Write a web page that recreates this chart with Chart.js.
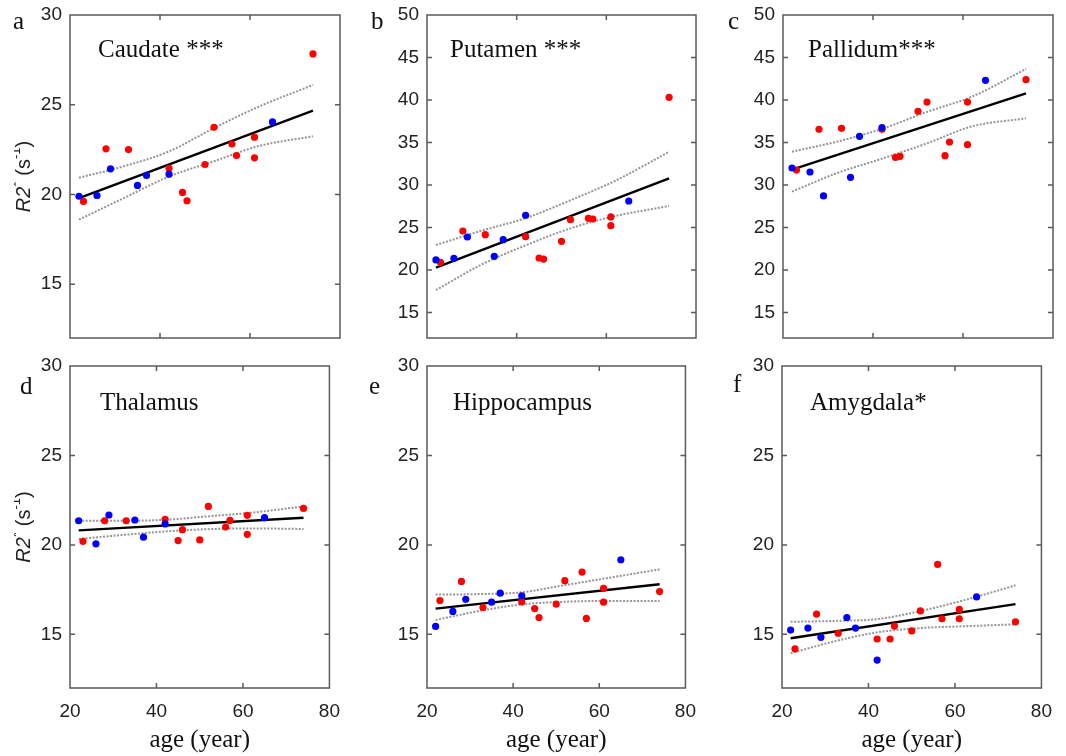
<!DOCTYPE html>
<html><head><meta charset="utf-8">
<script src="https://cdn.jsdelivr.net/npm/chart.js@4.4.1/dist/chart.umd.min.js"></script>
<style>
html,body{margin:0;padding:0;background:#fff;}
#wrap{position:relative;width:1066px;height:756px;overflow:hidden;background:#fff;}
canvas{position:absolute;}
.lbl{position:absolute;font-family:"Liberation Serif","Times New Roman",serif;color:#111;white-space:nowrap;font-size:25px;line-height:25px;}
</style></head><body><div id="wrap"></div>
<script>
// ---- data ----
const blueAge = [22, 26, 29, 35, 37, 42, 65];
const redAge  = [23, 28, 33, 42, 45, 46, 50, 52, 56, 57, 61, 61, 74];
const fitAge  = [22, 74];
const bandAge = [22, 32, 42, 52, 62, 74];
const xTicks  = [20, 40, 60, 80];
const yTicks30 = [15, 20, 25, 30];
const yTicks50 = [15, 20, 25, 30, 35, 40, 45, 50];
const regionNames  = ['Caudate ***', 'Putamen ***', 'Pallidum***', 'Thalamus', 'Hippocampus', 'Amygdala*'];
const panelLetters = ['a', 'b', 'c', 'd', 'e', 'f'];
const xTitle = 'age (year)';

const caudateBlue  = [19.90, 19.94, 21.43, 20.50, 21.06, 21.13, 24.04];
const caudateRed   = [19.61, 22.54, 22.50, 21.46, 20.11, 19.65, 21.67, 23.74, 22.81, 22.17, 23.19, 22.04, 27.83];
const caudateFit   = [19.80, 24.67];
const caudateUpper = [20.93, 21.57, 22.40, 23.70, 24.90, 26.10];
const caudateLower = [18.60, 19.80, 21.00, 21.85, 22.70, 23.24];

const putamenBlue  = [21.18, 21.37, 23.88, 21.61, 23.57, 26.43, 28.12];
const putamenRed   = [20.90, 24.59, 24.16, 23.92, 21.41, 21.29, 23.37, 25.92, 26.08, 26.00, 26.24, 25.22, 40.31];
const putamenFit   = [20.27, 30.78];
const putamenUpper = [22.94, 24.60, 26.10, 28.20, 30.50, 33.90];
const putamenLower = [17.65, 20.60, 22.90, 24.90, 26.35, 27.53];

const pallidumBlue  = [32.00, 31.53, 28.71, 30.90, 35.73, 36.75, 42.31];
const pallidumRed   = [31.76, 36.55, 36.67, 36.55, 33.25, 33.37, 38.67, 39.76, 33.45, 35.06, 39.76, 34.75, 42.39];
const pallidumFit   = [31.80, 40.78];
const pallidumUpper = [33.92, 35.10, 36.60, 38.60, 40.40, 43.65];
const pallidumLower = [29.22, 31.40, 33.10, 34.90, 36.90, 37.84];

const thalamusBlue  = [21.35, 20.06, 21.67, 21.39, 20.43, 21.17, 21.52];
const thalamusRed   = [20.20, 21.35, 21.35, 21.43, 20.24, 20.85, 20.28, 22.15, 21.00, 21.37, 21.65, 20.59, 22.04];
const thalamusFit   = [20.81, 21.52];
const thalamusUpper = [21.35, 21.35, 21.40, 21.60, 21.80, 22.15];
const thalamusLower = [20.33, 20.55, 20.75, 20.88, 20.92, 20.89];

const hippocampusBlue  = [15.44, 16.28, 16.96, 16.80, 17.30, 17.15, 19.17];
const hippocampusRed   = [16.89, 17.96, 16.50, 16.81, 16.44, 15.94, 16.69, 18.00, 18.48, 15.89, 17.57, 16.80, 17.39];
const hippocampusFit   = [16.44, 17.80];
const hippocampusUpper = [17.22, 17.25, 17.35, 17.75, 18.15, 18.63];
const hippocampusLower = [15.80, 16.30, 16.67, 16.82, 16.87, 16.87];

const amygdalaBlue  = [15.24, 15.35, 14.83, 15.94, 15.35, 13.56, 17.09];
const amygdalaRed   = [14.19, 16.13, 15.06, 14.74, 14.74, 15.46, 15.19, 16.31, 18.91, 15.87, 16.39, 15.87, 15.70];
const amygdalaFit   = [14.78, 16.69];
const amygdalaUpper = [15.70, 15.75, 15.85, 16.30, 16.90, 17.74];
const amygdalaLower = [13.94, 14.60, 15.11, 15.35, 15.45, 15.56];

// ---- layout ----
const panels = [
  {box:{l:70, t:15, r:340, b:338},  yMin:12, yMax:30, yT:yTicks30, blue:caudateBlue,  red:caudateRed,  fit:caudateFit,  up:caudateUpper,  lo:caudateLower},
  {box:{l:427,t:15, r:696, b:338},  yMin:12, yMax:50, yT:yTicks50, blue:putamenBlue,  red:putamenRed,  fit:putamenFit,  up:putamenUpper,  lo:putamenLower},
  {box:{l:783,t:15, r:1053,b:338},  yMin:12, yMax:50, yT:yTicks50, blue:pallidumBlue, red:pallidumRed, fit:pallidumFit, up:pallidumUpper, lo:pallidumLower},
  {box:{l:70, t:366,r:340, b:688},  yMin:12, yMax:30, yT:yTicks30, blue:thalamusBlue, red:thalamusRed, fit:thalamusFit, up:thalamusUpper, lo:thalamusLower},
  {box:{l:427,t:366,r:696, b:688},  yMin:12, yMax:30, yT:yTicks30, blue:hippocampusBlue, red:hippocampusRed, fit:hippocampusFit, up:hippocampusUpper, lo:hippocampusLower},
  {box:{l:782,t:366,r:1052,b:688},  yMin:12, yMax:30, yT:yTicks30, blue:amygdalaBlue, red:amygdalaRed, fit:amygdalaFit, up:amygdalaUpper, lo:amygdalaLower}
];
const titlePos  = [[98,36],[450,36],[808,36],[100,389],[453,389],[810,389]];
const letterPos = [[13,8],[371,8],[728,8],[20,373],[369,373],[733,371]];

const framePlugin = {
  id:'frame',
  beforeDatasetsDraw(chart){
    const {ctx, chartArea:{left,right,top,bottom}, scales:{x,y}} = chart;
    ctx.save();
    ctx.strokeStyle = '#5a5a5a'; ctx.lineWidth = 1.5;
    const tl = 5;
    ctx.beginPath();
    x.ticks.forEach(t => { const p = x.getPixelForValue(t.value); if (p <= left+1 || p >= right-1) return;
      ctx.moveTo(p, bottom); ctx.lineTo(p, bottom-tl); ctx.moveTo(p, top); ctx.lineTo(p, top+tl); });
    y.ticks.forEach(t => { const p = y.getPixelForValue(t.value); if (p <= top+1 || p >= bottom-1) return;
      ctx.moveTo(left, p); ctx.lineTo(left+tl, p); ctx.moveTo(right, p); ctx.lineTo(right-tl, p); });
    ctx.stroke();
    ctx.strokeRect(left, top, right-left, bottom-top);
    ctx.restore();
  }
};

function yTitlePlugin(cx) {
  return {
    id:'ytitle',
    afterDraw(chart){
      const {ctx, chartArea:{top,bottom}} = chart;
      const parts = [
        {t:'R2', f:'italic 20px "Liberation Sans", Arial, sans-serif', dy:0},
        {t:'*', f:'14px "Liberation Sans", Arial, sans-serif', dy:-7},
        {t:' (s', f:'20px "Liberation Sans", Arial, sans-serif', dy:0},
        {t:'-1', f:'13px "Liberation Sans", Arial, sans-serif', dy:-8},
        {t:')', f:'20px "Liberation Sans", Arial, sans-serif', dy:0}
      ];
      ctx.save();
      let w = 0;
      parts.forEach(p => { ctx.font = p.f; p.w = ctx.measureText(p.t).width; w += p.w; });
      ctx.translate(cx, (top+bottom)/2);
      ctx.rotate(-Math.PI/2);
      ctx.fillStyle = '#222';
      ctx.textBaseline = 'middle';
      let xx = -w/2;
      parts.forEach(p => { ctx.font = p.f; ctx.fillText(p.t, xx, p.dy); xx += p.w; });
      ctx.restore();
    }
  };
}

const wrap = document.getElementById('wrap');
panels.forEach((P, i) => {
  const leftCol = (i % 3 === 0);
  const bottomRow = (i >= 3);
  const yW = leftCol ? 56 : 50;
  const padTop = 22, padRight = 12;
  const xH = bottomRow ? 67 : 0;
  const padBottom = bottomRow ? 0 : 22;
  const b = P.box;
  const cl = b.l - yW, ct = b.t - padTop;
  const cw = (b.r - b.l) + yW + padRight;
  const ch = (b.b - b.t) + padTop + xH + padBottom;
  const cv = document.createElement('canvas');
  cv.width = cw; cv.height = ch;
  cv.style.left = cl + 'px'; cv.style.top = ct + 'px';
  cv.style.width = cw + 'px'; cv.style.height = ch + 'px';
  wrap.appendChild(cv);

  const plugins = [framePlugin];
  if (leftCol) plugins.push(yTitlePlugin(24 - cl));

  new Chart(cv, {
    type:'scatter',
    data:{
      datasets:[
        {label:'blue', data: blueAge.map((a,k)=>({x:a, y:P.blue[k]})), backgroundColor:'#0000ff', borderWidth:0, pointRadius:3.6, order:0},
        {label:'red',  data: redAge.map((a,k)=>({x:a, y:P.red[k]})),  backgroundColor:'#ff0000', borderWidth:0, pointRadius:3.6, order:1},
        {type:'line', label:'fit', data: fitAge.map((a,k)=>({x:a, y:P.fit[k]})), borderColor:'#000', borderWidth:2.4, pointRadius:0, fill:false, order:2},
        {type:'line', label:'upper', data: bandAge.map((a,k)=>({x:a, y:P.up[k]})), borderColor:'rgba(130,130,130,0.85)', borderWidth:2, borderDash:[2,1.5], pointRadius:0, fill:false, cubicInterpolationMode:'monotone', order:3},
        {type:'line', label:'lower', data: bandAge.map((a,k)=>({x:a, y:P.lo[k]})), borderColor:'rgba(130,130,130,0.85)', borderWidth:2, borderDash:[2,1.5], pointRadius:0, fill:false, cubicInterpolationMode:'monotone', order:4}
      ]
    },
    options:{
      responsive:false, devicePixelRatio:1, animation:false,
      layout:{padding:{top:padTop, right:padRight, bottom:padBottom, left:0}},
      plugins:{legend:{display:false}, tooltip:{enabled:false}},
      scales:{
        x:{
          type:'linear', min:20, max:80,
          grid:{display:false, drawTicks:false}, border:{display:false},
          afterBuildTicks: s => { s.ticks = xTicks.map(v=>({value:v})); },
          afterFit: s => { s.height = xH; },
          ticks:{display:bottomRow, padding:12, color:'#222', font:{family:'"Liberation Sans", Arial, sans-serif', size:19}},
          title:{display:bottomRow, text:xTitle, color:'#111', padding:{top:0,bottom:0}, font:{family:'"Liberation Serif", "Times New Roman", serif', size:25, lineHeight:1.2}}
        },
        y:{
          type:'linear', min:P.yMin, max:P.yMax,
          grid:{display:false, drawTicks:false}, border:{display:false},
          afterBuildTicks: s => { s.ticks = P.yT.map(v=>({value:v})); },
          afterFit: s => { s.width = yW; },
          ticks:{padding:8, color:'#222', font:{family:'"Liberation Sans", Arial, sans-serif', size:19}}
        }
      }
    },
    plugins: plugins
  });

  const t = document.createElement('div');
  t.className = 'lbl'; t.textContent = regionNames[i];
  t.style.left = titlePos[i][0] + 'px'; t.style.top = titlePos[i][1] + 'px';
  wrap.appendChild(t);
  const L = document.createElement('div');
  L.className = 'lbl'; L.textContent = panelLetters[i];
  L.style.left = letterPos[i][0] + 'px'; L.style.top = letterPos[i][1] + 'px';
  wrap.appendChild(L);
});
</script></body></html>
